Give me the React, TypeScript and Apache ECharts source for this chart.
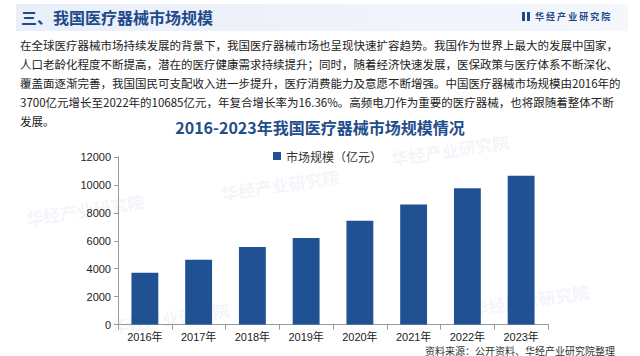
import React, { useEffect, useRef } from "react";
import * as echarts from "echarts";

const years = ["2016年", "2017年", "2018年", "2019年", "2020年", "2021年", "2022年", "2023年"];
const marketSize = [3700, 4640, 5560, 6200, 7440, 8600, 9770, 10650];
const seriesName = "市场规模（亿元）";
const chartTitle = "2016-2023年我国医疗器械市场规模情况";
const sectionTitle = "三、我国医疗器械市场规模";
const brand = "华 经 产 业 研 究 院";
const paragraph = [
  "在全球医疗器械市场持续发展的背景下，我国医疗器械市场也呈现快速扩容趋势。我国作为世界上最大的发展中国家，",
  "人口老龄化程度不断提高，潜在的医疗健康需求持续提升；同时，随着经济快速发展，医保政策与医疗体系不断深化、",
  "覆盖面逐渐完善，我国国民可支配收入进一步提升，医疗消费能力及意愿不断增强。中国医疗器械市场规模由2016年的",
  "3700亿元增长至2022年的10685亿元，年复合增长率为16.36%。高频电刀作为重要的医疗器械，也将跟随着整体不断",
  "发展。",
];
const sourceText = "资料来源：公开资料、华经产业研究院整理";

const CJK = "'Noto Sans CJK SC', 'Noto Sans', sans-serif";
const NUM = "'Liberation Sans', Arial, 'Noto Sans CJK SC', sans-serif";
const BLUE = "#1F5193";

export default function App() {
  const ref = useRef<HTMLDivElement>(null);
  useEffect(() => {
    if (!ref.current) return;
    const chart = echarts.init(ref.current, null, { renderer: "svg" });
    const watermarks = [
      [25, 210], [220, 185], [390, 150], [470, 300], [110, 318],
    ].map(([x, y]) => ({
      type: "text",
      x,
      y,
      rotation: 0.15,
      silent: true,
      style: {
        text: "华经产业研究院",
        fill: "rgba(200,212,232,0.22)",
        font: `bold 17px ${CJK}`,
      },
    }));
    chart.setOption({
      animation: false,
      backgroundColor: "#ffffff",
      title: {
        text: chartTitle,
        left: "center",
        top: 114,
        textStyle: { color: "#1F4E8C", fontSize: 16, fontWeight: "bold", fontFamily: CJK },
      },
      legend: {
        data: [seriesName],
        left: 268,
        top: 145,
        icon: "rect",
        itemWidth: 8,
        itemHeight: 8,
        itemGap: 4,
        textStyle: { color: "#333", fontSize: 12, fontFamily: CJK },
      },
      grid: { left: 118, right: 92, top: 157, bottom: 31.5 },
      xAxis: {
        type: "category",
        data: years,
        axisLine: { lineStyle: { color: "#999" } },
        axisTick: { show: true, lineStyle: { color: "#999" } },
        axisLabel: { color: "#222", fontSize: 11, fontFamily: NUM, margin: 7 },
      },
      yAxis: {
        type: "value",
        min: 0,
        max: 12000,
        interval: 2000,
        axisLine: { show: true, lineStyle: { color: "#999" } },
        axisTick: { show: true, length: 4, lineStyle: { color: "#999" } },
        splitLine: { show: false },
        axisLabel: {
          color: "#222",
          fontSize: 11,
          fontFamily: NUM,
          margin: 7,
          formatter: (v: number) => String(v),
        },
      },
      series: [
        {
          name: seriesName,
          type: "bar",
          data: marketSize,
          barWidth: "50%",
          itemStyle: { color: BLUE },
        },
      ],
      graphic: [
        ...watermarks,
        {
          type: "rect",
          shape: { x: 16, y: 4, width: 612, height: 27 },
          silent: true,
          style: {
            fill: new echarts.graphic.LinearGradient(0, 0, 1, 0, [
              { offset: 0, color: "#e9eff9" },
              { offset: 1, color: "#f4f7fc" },
            ]),
          },
        },
        {
          type: "text",
          x: 21,
          y: 17,
          style: {
            text: sectionTitle,
            fill: "#1F4A8A",
            font: `bold 16px ${CJK}`,
            verticalAlign: "middle",
          },
        },
        { type: "rect", shape: { x: 522, y: 12, width: 3, height: 9 }, style: { fill: "#1F4A8A" } },
        { type: "rect", shape: { x: 527, y: 12, width: 3, height: 9 }, style: { fill: "#1F4A8A" } },
        {
          type: "text",
          x: 535,
          y: 16.5,
          style: {
            text: brand,
            fill: "#1F4A8A",
            font: `bold 9px ${CJK}`,
            verticalAlign: "middle",
          },
        },
        ...paragraph.map((line, i) => ({
          type: "text",
          x: 20,
          y: 45 + i * 19,
          style: {
            text: line,
            fill: "#222",
            font: `11.5px ${CJK}`,
            verticalAlign: "middle",
          },
        })),
        {
          type: "text",
          right: 25,
          top: 345,
          style: {
            text: sourceText,
            fill: "#333",
            font: `10px ${CJK}`,
          },
        },
      ],
    });
    return () => chart.dispose();
  }, []);
  return <div ref={ref} style={{ width: 640, height: 356, position: "absolute", left: 0, top: 0 }} />;
}
